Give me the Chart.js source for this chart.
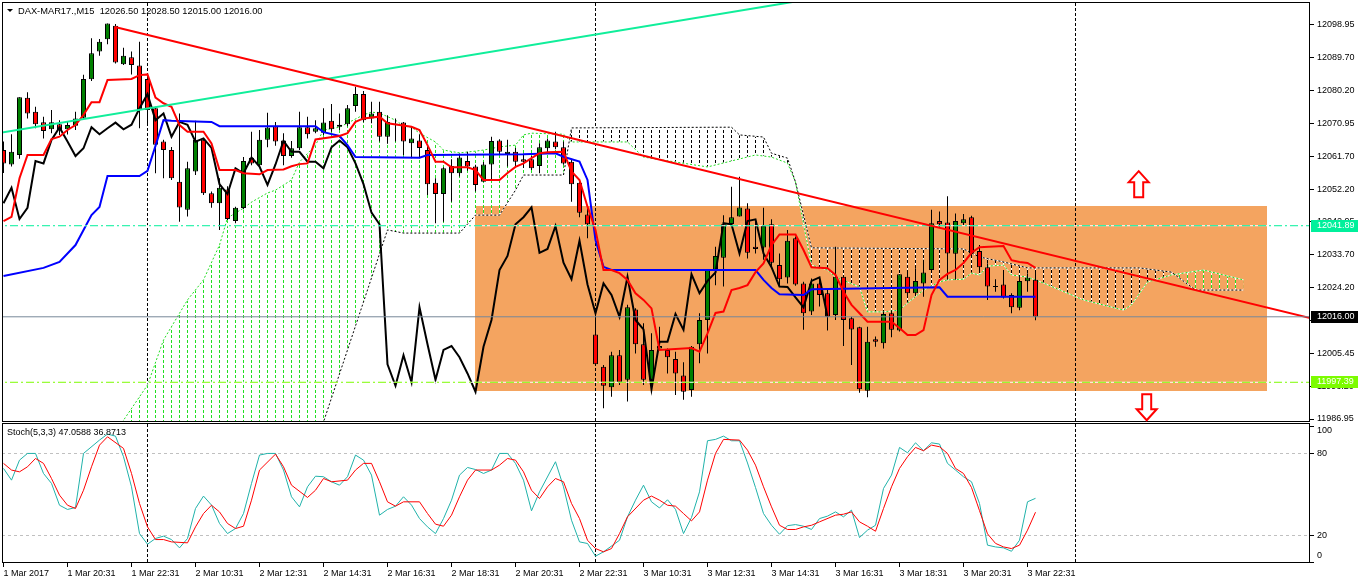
<!DOCTYPE html>
<html>
<head>
<meta charset="utf-8">
<script src="https://cdn.jsdelivr.net/npm/chart.js@4.4.1/dist/chart.umd.min.js"></script>
<style>
  html, body { margin: 0; padding: 0; background: #fff; }
  #wrap { position: relative; width: 1358px; height: 584px; overflow: hidden; }
  #main { position: absolute; left: 0; top: 0; }
  #osc { position: absolute; left: 0; top: 422px; }
</style>
</head>
<body>
<div id="wrap">
  <canvas id="main" width="1358" height="424"></canvas>
  <canvas id="osc" width="1358" height="162"></canvas>
</div>
<script>
// M15 candles, bar index 0..129
const opens = [12063.4,12059.3,12062.0,12078.3,12074.3,12071.3,12069.3,12070.7,12069.3,12070.3,
  12072.6,12083.5,12091.4,12094.9,12098.7,12087.8,12089.8,12087.4,12083.6,12075.3,
  12065.8,12063.4,12054.4,12046.4,12057.3,12066.3,12051.1,12048.3,12052.2,12043.2,
  12046.9,12061.2,12059.1,12066.3,12070.2,12066.1,12061.7,12063.9,12069.9,12068.6,
  12068.3,12071.7,12070.0,12070.7,12075.9,12079.3,12072.4,12074.3,12067.2,12070.8,
  12071.2,12065.3,12066.1,12063.4,12054.1,12050.9,12058.9,12056.8,12060.3,12058.7,
  12054.4,12059.3,12066.1,12062.3,12062.9,12060.8,12060.8,12058.9,12063.9,12065.8,
  12064.2,12060.1,12054.1,12045.1,12011.0,12001.8,11996.0,12005.1,11998.1,12018.1,
  12008.2,11998.1,12007.0,12006.6,12004.0,11999.3,11995.2,12008.2,12015.1,12029.3,
  12032.8,12042.4,12044.5,12046.8,12035.9,12035.7,12042.3,12030.7,12027.2,12038.3,
  12025.5,12017.5,12025.5,12022.7,12016.5,12027.4,12015.6,12013.0,11995.0,12009.6,
  12008.5,12017.0,12012.1,12027.4,12022.7,12025.5,12029.3,12043.2,12042.8,12033.9,
  12042.6,12044.3,12034.7,12030.1,12024.6,12025.2,12022.2,12018.6,12026.1,12026.5];
const highs = [12065.8,12067.9,12078.4,12079.8,12075.7,12072.9,12074.8,12071.9,12071.6,12074.3,
  12084.8,12095.2,12095.0,12099.4,12099.2,12092.5,12091.4,12094.2,12085.1,12075.7,
  12066.3,12064.3,12073.8,12060.1,12071.7,12066.7,12051.6,12055.4,12053.1,12047.3,
  12061.4,12068.6,12069.1,12074.0,12071.4,12068.2,12066.0,12074.3,12072.9,12071.9,
  12075.3,12076.5,12073.8,12076.2,12081.4,12080.2,12077.1,12077.1,12073.3,12072.4,
  12071.4,12070.0,12067.9,12064.4,12055.4,12058.5,12060.8,12062.4,12062.9,12059.2,
  12060.0,12067.2,12066.5,12066.3,12064.0,12062.4,12061.7,12065.3,12066.7,12068.6,
  12065.8,12060.6,12054.4,12047.8,12017.0,12002.3,12006.1,12006.6,12019.4,12018.4,
  12014.2,12011.3,12013.2,12007.0,12006.1,12003.1,12007.7,12017.0,12029.3,12035.9,
  12044.9,12053.0,12055.8,12048.3,12043.0,12047.0,12043.7,12034.0,12040.7,12038.8,
  12026.0,12026.9,12026.5,12023.6,12035.9,12027.9,12016.0,12013.2,12013.2,12010.4,
  12017.5,12017.9,12028.1,12028.8,12029.8,12032.2,12046.4,12045.9,12050.3,12045.4,
  12045.2,12044.7,12036.4,12031.2,12026.7,12029.3,12022.7,12027.9,12028.4,12028.5];
const lows = [12056.9,12058.7,12060.9,12072.4,12069.6,12066.7,12068.2,12067.7,12067.8,12069.1,
  12072.1,12083.0,12090.2,12093.5,12088.0,12087.6,12084.9,12069.6,12070.8,12056.8,
  12055.4,12054.9,12043.0,12044.5,12056.3,12050.6,12047.0,12040.7,12043.5,12042.6,
  12046.6,12059.1,12058.6,12064.2,12064.6,12059.1,12061.2,12063.4,12066.7,12068.2,
  12067.7,12068.6,12069.1,12070.2,12074.3,12071.3,12071.0,12065.8,12065.2,12065.8,
  12062.0,12061.1,12061.1,12050.6,12042.6,12043.0,12048.7,12055.9,12057.5,12051.6,
  12054.4,12054.9,12062.0,12058.7,12058.3,12058.3,12057.7,12056.8,12062.7,12063.6,
  12059.2,12048.7,12044.3,12038.3,12002.3,11990.0,11993.3,11996.6,11991.9,12005.6,
  11996.6,11995.2,12006.6,11999.9,11993.8,11992.4,11993.3,12002.8,12005.6,12025.0,
  12024.6,12042.4,12044.5,12032.6,12034.0,12032.2,12030.2,12025.0,12025.5,12024.8,
  12012.3,12016.5,12018.9,12012.1,12015.1,12007.7,12002.3,11994.4,11993.1,12007.5,
  12007.0,12010.2,12011.8,12022.2,12022.2,12021.7,12028.8,12041.6,12026.5,12026.5,
  12042.1,12033.6,12029.3,12020.8,12023.1,12021.2,12017.0,12017.9,12023.1,12015.0];
const closes = [12059.6,12062.9,12078.4,12073.8,12070.7,12068.8,12071.3,12069.1,12070.5,12072.4,
  12083.6,12090.9,12094.2,12099.4,12088.3,12090.2,12087.6,12074.8,12074.8,12064.9,
  12063.4,12055.4,12047.1,12058.2,12066.3,12051.1,12048.3,12052.7,12043.8,12047.0,
  12060.3,12059.6,12066.3,12069.8,12065.8,12061.7,12063.9,12069.9,12067.9,12069.6,
  12071.2,12069.3,12070.6,12075.3,12079.3,12071.9,12073.8,12067.2,12071.4,12070.6,
  12065.8,12066.7,12064.0,12053.7,12050.9,12058.2,12056.8,12061.3,12058.7,12053.5,
  12059.3,12066.0,12062.9,12062.9,12060.1,12060.1,12058.2,12064.2,12066.1,12064.2,
  12059.6,12053.7,12045.6,12042.3,12002.5,11996.4,12005.1,11997.4,12018.7,12008.2,
  11998.1,12006.6,12007.7,12004.5,11999.9,11994.7,12007.5,12015.1,12029.3,12033.3,
  12042.3,12044.3,12047.1,12034.2,12035.3,12041.8,12031.4,12026.7,12037.6,12025.2,
  12017.0,12025.5,12022.2,12016.0,12027.4,12015.1,12012.4,11995.4,12008.9,12008.9,
  12016.8,12012.3,12028.1,12022.7,12026.2,12028.6,12042.6,12042.3,12034.0,12043.2,
  12043.7,12034.0,12030.1,12024.6,12024.5,12021.5,12018.7,12026.2,12027.2,12016.0];

// Ichimoku lines as [bar, price] vertices
const tenkan = [[0,12043.2],[1,12044.4],[2,12055.4],[3,12062.0],[5,12062.0],[6,12066.5],[7,12067.2],[8,12069.1],
  [9,12070.5],[10,12073.4],[11,12077.0],[12,12077.0],[13,12083.3],[16,12083.6],[17,12084.7],[18,12084.9],
  [19,12078.3],[20,12076.7],[21,12075.7],[22,12070.5],[23,12068.6],[25,12068.6],[26,12065.3],[27,12057.7],
  [29,12057.7],[30,12056.8],[32,12056.5],[33,12057.7],[35,12057.9],[36,12058.8],[37,12059.4],[38,12059.6],
  [39,12066.4],[42,12067.4],[43,12068.2],[44,12071.4],[45,12072.4],[47,12072.9],[48,12071.0],[51,12070.0],
  [52,12069.1],[53,12064.8],[54,12060.1],[55,12060.1],[56,12058.5],[58,12058.5],[59,12057.7],[60,12054.9],
  [62,12054.9],[63,12056.9],[64,12058.6],[65,12059.6],[66,12061.1],[67,12062.5],[68,12062.8],[70,12062.9],
  [71,12057.3],[72,12054.9],[73,12047.3],[74,12040.7],[75,12029.3],[76,12029.3],[77,12028.4],[78,12026.5],
  [79,12022.7],[80,12020.8],[81,12018.4],[82,12006.6],[86,12007.1],[87,12006.1],[88,12011.3],[89,12017.1],
  [90,12017.5],[91,12023.6],[92,12024.2],[93,12025.0],[94,12028.7],[95,12031.2],[96,12036.4],[97,12039.4],
  [99,12039.4],[100,12035.0],[101,12030.1],[103,12029.8],[104,12027.9],[105,12023.1],[106,12019.4],[107,12017.0],
  [108,12014.6],[111,12014.6],[112,12012.8],[113,12010.8],[114,12010.8],[115,12012.2],[116,12022.2],[117,12026.5],
  [118,12028.2],[119,12029.3],[120,12031.3],[121,12034.2],[122,12035.8],[125,12036.1],[126,12032.1],[127,12031.6],
  [128,12031.3],[129,12029.9]];
const kijun = [[0,12027.6],[5,12029.9],[7,12031.6],[9,12036.4],[11,12044.9],[12,12047.2],[13,12056.0],[17,12056.0],
  [18,12057.5],[19,12064.6],[20,12071.9],[21,12071.7],[26,12071.4],[27,12070.2],[39,12070.2],[40,12068.5],
  [42,12067.4],[43,12064.8],[44,12061.4],[52,12061.2],[53,12062.0],[65,12062.2],[69,12062.5],[70,12061.5],
  [72,12060.1],[73,12054.9],[74,12037.8],[75,12030.2],[76,12029.3],[94,12029.3],[95,12026.5],[96,12024.2],
  [97,12022.4],[100,12022.2],[101,12023.8],[117,12024.4],[118,12021.7],[129,12021.7]];
const spanA = [[0,11970],[14,11983.8],[15,11986.6],[18,11996.6],[20,12009.4],[23,12020.8],[25,12026.5],[27,12036.4],
  [28,12044.1],[30,12046.9],[31,12048.6],[33,12051.2],[34,12052.0],[36,12054.9],[37,12060.0],[39,12064.8],
  [40,12069.1],[42,12069.9],[45,12073.4],[46,12074.2],[47,12073.9],[49,12071.9],[50,12070.2],[51,12069.9],
  [52,12068.2],[54,12065.7],[55,12063.4],[57,12062.6],[59,12063.1],[60,12063.4],[62,12064.3],[64,12064.8],
  [65,12067.7],[66,12068.2],[70,12067.9],[71,12065.7],[78,12065.7],[80,12061.4],[88,12058.6],[94,12062.0],
  [96,12061.4],[98,12059.7],[99,12054.3],[101,12030.7],[103,12029.3],[104,12027.3],[107,12024.5],[108,12017.4],
  [110,12017.4],[112,12017.9],[113,12019.9],[115,12023.6],[117,12025.9],[118,12026.5],[120,12026.7],[121,12028.4],
  [122,12027.9],[123,12030.4],[125,12030.7],[126,12027.9],[128,12027.3],[130,12025.6],[135,12020.8],[140,12017.9],
  [141,12019.4],[143,12025.9],[146,12027.9],[150,12029.3],[155,12026.5]];
const spanB = [[0,11975],[40,11986.1],[48,12040.7],[50,12039.8],[57,12039.8],[59,12044.9],[62,12044.9],[64,12052.0],
  [65,12056.3],[70,12056.3],[71,12069.7],[91,12069.9],[92,12067.7],[95,12067.1],[96,12062.5],[98,12061.1],
  [99,12054.3],[101,12035.6],[120,12035.3],[122,12033.0],[125,12031.6],[128,12029.9],[142,12029.9],[146,12028.7],
  [149,12023.6],[155,12023.6]];

// Stochastic (5,3,3) as [bar, value] vertices
const stochK = [[0,69],[1,60.4],[2,75.1],[3,80],[4,80],[5,65.3],[6,58],[7,42],[8,38.9],[9,40.3],[10,80],[12,89.8],
  [13,94.2],[14,92.7],[15,77.6],[16,55.5],[17,21.2],[18,13.4],[19,17.6],[20,19.3],[21,16.8],[22,10.7],[23,17.6],
  [24,39.6],[25,48.7],[26,42.1],[27,28.6],[28,21.2],[29,24.9],[30,35.9],[31,58],[32,78.8],[33,80],[34,80],[35,67.8],
  [36,48.2],[37,40.8],[38,55.5],[39,63.3],[40,62.9],[41,59.2],[42,56.7],[43,62.9],[44,78.8],[45,75.1],[46,64.1],
  [47,34.7],[48,38.9],[49,41.3],[50,48.2],[51,42.1],[52,32.2],[53,26.1],[54,21.2],[55,32.2],[56,45.7],[57,64.1],
  [58,69.7],[59,68.2],[60,65.3],[61,67.8],[62,80],[63,80],[64,72.7],[65,60.4],[66,37.9],[67,51.8],[69,73.9],
  [70,55.5],[71,31],[72,15.1],[73,13.9],[74,4.6],[75,7.8],[77,16.3],[78,33.5],[79,45.7],[80,56.7],[81,44.5],
  [82,40],[83,46],[84,39],[85,21.2],[86,33],[87,51.8],[88,89.3],[89,90.3],[90,92.7],[91,89.3],[92,89.3],[93,73],
  [94,55],[95,35.9],[96,27.3],[97,20.7],[98,27],[99,27.8],[100,26.6],[101,24.2],[102,32.2],[103,34],[104,37.1],
  [105,33.5],[106,38.4],[107,18.3],[108,23.7],[109,27.3],[110,54.3],[111,64.1],[112,84.4],[113,80.5],[114,87.8],
  [115,82],[116,87.8],[117,86.9],[118,72.7],[119,67.8],[120,62.9],[121,59.2],[122,43.3],[123,12.7],[124,11.4],
  [125,10.7],[126,8.2],[127,16.3],[128,44.5],[129,47.0588]];
const stochD = [[0,72.7],[1,67.8],[2,66.5],[3,70.2],[4,76.3],[5,72.7],[6,61.6],[7,49.4],[8,42],[9,39.6],[10,53],
  [11,70.2],[12,86.1],[13,92.2],[15,83.7],[16,65.3],[17,43.3],[18,26.1],[19,16.8],[20,16.8],[21,15.1],[23,14.4],
  [24,26.1],[25,35.9],[26,42],[27,37.1],[28,28.6],[29,24.9],[30,26.6],[31,45.7],[32,67.8],[34,79.5],[35,70.2],
  [36,56.7],[38,47.7],[39,53],[40,61.6],[41,59.2],[43,60.4],[44,67.8],[45,72.7],[46,72.7],[47,59.2],[48,44.5],
  [49,41.3],[50,44.5],[52,44.5],[53,35.9],[54,28.1],[55,26.6],[56,34.7],[57,48.2],[58,60.4],[59,67.8],[61,67.8],
  [62,71.4],[63,76.3],[64,75.1],[65,66.5],[66,53],[67,46.9],[68,55.5],[69,61.6],[70,59.2],[71,43.3],[72,32.2],
  [73,16.3],[74,10.2],[75,7.8],[76,10.2],[77,21.2],[78,33.5],[80,45.7],[81,48.7],[82,45.7],[83,42],[84,41.3],
  [85,35.9],[86,30.5],[87,37.1],[88,60.4],[89,80],[90,90.3],[92,89.8],[93,82.4],[94,71.4],[95,55.5],[96,40.8],
  [97,27.3],[98,24.2],[99,24.2],[100,26.1],[101,27.3],[102,29.8],[104,34.7],[105,35.4],[106,37.1],[107,29.8],
  [108,26.6],[109,22.9],[110,39.6],[111,55.5],[112,69],[113,77.6],[114,84.4],[115,82],[116,86.1],[117,84.9],
  [118,80],[119,69],[120,65.3],[121,55],[122,38],[123,21],[124,14],[125,11.4],[126,10.2],[127,12.7],[128,23.7],
  [129,36.8713]];

// drawn objects
const redTrend = [[13.94,12098.4],[165,12014.7]];
const greenTrend = [[-1,12068.1],[100,12106.0]];
const zone = [[58.9,12047.5],[157.9,11994.9]];
const levelUp = 12041.89;
const levelDown = 11997.39;
const bidPrice = 12016.00;
const arrowUp = [141.9,12057.4];   // tip of the up arrow
const arrowDown = [142.9,11986.6]; // tip of the down arrow
const separatorBars = [18,74,134];
const stochLevels = [80,20];

// axes
const priceTicks = [12098.95,12089.70,12080.20,12070.95,12061.70,12052.20,12042.95,12033.70,12024.20,
  12014.95,12005.45,11996.20,11986.95];
const timeTickBars = [0,8,16,24,32,40,48,56,64,72,80,88,96,104,112,120,128];
const timeLabels = ['1 Mar 2017','1 Mar 20:31','1 Mar 22:31','2 Mar 10:31','2 Mar 12:31','2 Mar 14:31',
  '2 Mar 16:31','2 Mar 18:31','2 Mar 20:31','2 Mar 22:31','3 Mar 10:31','3 Mar 12:31','3 Mar 14:31',
  '3 Mar 16:31','3 Mar 18:31','3 Mar 20:31','3 Mar 22:31'];
const oscTicks = [100,80,20,0];
const header = 'DAX-MAR17.,M15  12026.50 12028.50 12015.00 12016.00';
const oscHeader = 'Stoch(5,3,3) 47.0588 36.8713';

const X_MIN = -0.1875, X_MAX = 163.3125;
const FONT = '"Liberation Sans", Arial, sans-serif';
Chart.defaults.font.family = FONT;
Chart.defaults.font.size = 9;
Chart.defaults.color = '#000';

const pts = arr => arr.map(([x, y]) => ({x, y}));
const flat = v => [{x: X_MIN - 1, y: v}, {x: X_MAX + 1, y: v}];
const noPad = s => { s.paddingTop = 0; s.paddingBottom = 0; s.paddingLeft = 0; s.paddingRight = 0; };

function hatch(ctx, color) {
  const c = document.createElement('canvas');
  c.width = 8; c.height = 5;
  const g = c.getContext('2d');
  g.fillStyle = '#fff'; g.fillRect(3, 3, 1, 2);
  g.fillStyle = color; g.fillRect(3, 0, 1, 3);
  return ctx.createPattern(c, 'repeat');
}

function drawSeparators(ctx, x, a) {
  ctx.save();
  ctx.strokeStyle = '#000';
  ctx.lineWidth = 1;
  ctx.setLineDash([3, 2]);
  separatorBars.forEach(b => {
    const px = Math.floor(x.getPixelForValue(b)) + 0.5;
    ctx.beginPath(); ctx.moveTo(px, a.top); ctx.lineTo(px, a.bottom); ctx.stroke();
  });
  ctx.restore();
}

function drawBox(ctx, a) {
  ctx.save();
  ctx.strokeStyle = '#000';
  ctx.lineWidth = 1;
  ctx.strokeRect(a.left + 0.5, a.top - 0.5, a.right - a.left - 1, a.bottom - a.top);
  ctx.restore();
}

// outlined block arrow, tip at (cx, ty), dir -1 = up, +1 = down
function drawArrow(ctx, cx, ty, dir) {
  const d = -dir;
  ctx.beginPath();
  ctx.moveTo(cx, ty);
  ctx.lineTo(cx + 10, ty + d * 11);
  ctx.lineTo(cx + 4.5, ty + d * 11);
  ctx.lineTo(cx + 4.5, ty + d * 26);
  ctx.lineTo(cx - 4.5, ty + d * 26);
  ctx.lineTo(cx - 4.5, ty + d * 11);
  ctx.lineTo(cx - 10, ty + d * 11);
  ctx.closePath();
  ctx.fillStyle = '#fff';
  ctx.fill();
  ctx.strokeStyle = '#FF0000';
  ctx.lineWidth = 2;
  ctx.stroke();
}

const mainDecor = {
  id: 'mainDecor',
  beforeDatasetsDraw(chart) {
    const {ctx, chartArea: a, scales: {x, y}} = chart;
    ctx.save();
    ctx.beginPath(); ctx.rect(a.left, a.top, a.right - a.left, a.bottom - a.top); ctx.clip();
    const x1 = x.getPixelForValue(zone[0][0]), x2 = x.getPixelForValue(zone[1][0]);
    const y1 = y.getPixelForValue(zone[0][1]), y2 = y.getPixelForValue(zone[1][1]);
    ctx.fillStyle = '#F4A460';
    ctx.fillRect(Math.round(x1), Math.round(y1), Math.round(x2 - x1), Math.round(y2 - y1));
    ctx.restore();
    drawSeparators(ctx, x, a);
  },
  afterDraw(chart) {
    const {ctx, chartArea: a, scales: {x, y}} = chart;
    drawBox(ctx, a);
    ctx.save();
    // header
    ctx.fillStyle = '#000';
    ctx.beginPath(); ctx.moveTo(7, 9); ctx.lineTo(13, 9); ctx.lineTo(10, 12); ctx.closePath(); ctx.fill();
    ctx.font = '9.3px ' + FONT;
    ctx.textBaseline = 'middle';
    ctx.textAlign = 'left';
    ctx.fillText(header, 18, 11);
    ctx.font = '9px ' + FONT;
    // price tags
    [[levelUp, '#00F09C', '#fff'], [bidPrice, '#000', '#fff'], [levelDown, '#7CFC00', '#fff']].forEach(([v, bg, fg]) => {
      const py = Math.round(y.getPixelForValue(v));
      ctx.fillStyle = bg; ctx.fillRect(a.right + 1, py - 6, 48, 12);
      ctx.fillStyle = fg; ctx.fillText(v.toFixed(2), a.right + 7, py);
    });
    // arrows
    ctx.beginPath(); ctx.rect(a.left, a.top, a.right - a.left, a.bottom - a.top); ctx.clip();
    drawArrow(ctx, x.getPixelForValue(arrowUp[0]), y.getPixelForValue(arrowUp[1]), -1);
    drawArrow(ctx, x.getPixelForValue(arrowDown[0]), y.getPixelForValue(arrowDown[1]), 1);
    ctx.restore();
  }
};

const mainCanvas = document.getElementById('main');
const mctx = mainCanvas.getContext('2d');
const upHatch = hatch(mctx, '#22DD22');
const downHatch = hatch(mctx, '#000000');

const lineBase = {type: 'line', pointRadius: 0, tension: 0, fill: false};

new Chart(mctx, {
  type: 'bar',
  data: {
    datasets: [
      Object.assign({}, lineBase, {data: pts(spanA), borderWidth: 0, borderColor: 'rgba(0,0,0,0)',
        fill: {target: 1, above: upHatch, below: downHatch}, order: 30}),
      Object.assign({}, lineBase, {data: pts(spanB), borderWidth: 1, borderColor: '#000', borderDash: [2, 2], order: 19}),
      Object.assign({}, lineBase, {data: pts(spanA), borderWidth: 1, borderColor: '#22DD22', borderDash: [2, 2], order: 20}),
      Object.assign({}, lineBase, {data: pts(spanB), borderWidth: 1, borderColor: '#fff', order: 25}),
      Object.assign({}, lineBase, {data: pts(spanA), borderWidth: 1, borderColor: '#fff', order: 26}),
      {
        type: 'bar', data: lows.map((l, i) => ({x: i, y: [l, highs[i]]})),
        barThickness: 1, backgroundColor: '#000', borderWidth: 0, grouped: false, inflateAmount: 0, order: 12
      },
      {
        type: 'bar', data: opens.map((o, i) => ({x: i, y: [o, closes[i]]})),
        barThickness: 5, minBarLength: 1, borderWidth: 1, borderColor: '#000', borderSkipped: false,
        grouped: false, inflateAmount: 0, order: 11,
        backgroundColor: c => (c.raw && c.raw.y[1] >= c.raw.y[0]) ? '#008000' : '#FF0000'
      },
      Object.assign({}, lineBase, {data: closes.slice(26).map((c, i) => ({x: i, y: c})), borderWidth: 2, borderColor: '#000', order: 8}),
      Object.assign({}, lineBase, {data: pts(kijun), borderWidth: 2, borderColor: '#0000FF', order: 7}),
      Object.assign({}, lineBase, {data: pts(tenkan), borderWidth: 2, borderColor: '#FF0000', order: 6}),
      Object.assign({}, lineBase, {data: flat(levelUp), borderWidth: 1, borderColor: '#fff', order: 5}),
      Object.assign({}, lineBase, {data: flat(levelUp), borderWidth: 1, borderColor: '#00F09C', borderDash: [8, 3, 2, 3], order: 4}),
      Object.assign({}, lineBase, {data: flat(levelDown), borderWidth: 1, borderColor: '#fff', order: 5}),
      Object.assign({}, lineBase, {data: flat(levelDown), borderWidth: 1, borderColor: '#7CFC00', borderDash: [8, 3, 2, 3], order: 4}),
      Object.assign({}, lineBase, {data: pts(greenTrend), borderWidth: 2, borderColor: '#10EE9A', order: 3}),
      Object.assign({}, lineBase, {data: pts(redTrend), borderWidth: 2, borderColor: '#FF0000', order: 2}),
      Object.assign({}, lineBase, {data: flat(bidPrice), borderWidth: 1, borderColor: '#778899', order: 1})
    ]
  },
  options: {
    responsive: false,
    animation: false,
    devicePixelRatio: 1,
    layout: {padding: {top: 3, left: 2, right: 0, bottom: 2}},
    plugins: {legend: {display: false}, tooltip: {enabled: false}},
    scales: {
      x: {type: 'linear', min: X_MIN, max: X_MAX, offset: false, display: false},
      y: {
        type: 'linear', position: 'right', min: 11986.1, max: 12105.2, beginAtZero: false,
        border: {display: false},
        grid: {drawOnChartArea: false, drawTicks: true, tickLength: 4, color: '#000'},
        ticks: {padding: 3, autoSkip: false, callback: v => Number(v).toFixed(2)},
        afterBuildTicks: s => { s.ticks = priceTicks.map(v => ({value: v})); },
        afterFit: s => { s.width = 48; noPad(s); }
      }
    }
  },
  plugins: [mainDecor]
});

const oscDecor = {
  id: 'oscDecor',
  beforeDatasetsDraw(chart) {
    const {ctx, chartArea: a, scales: {x, y}} = chart;
    ctx.save();
    ctx.strokeStyle = '#C0C0C0';
    ctx.lineWidth = 1;
    ctx.setLineDash([3, 3]);
    stochLevels.forEach(v => {
      const py = Math.round(y.getPixelForValue(v)) + 0.5;
      ctx.beginPath(); ctx.moveTo(a.left, py); ctx.lineTo(a.right, py); ctx.stroke();
    });
    ctx.restore();
    drawSeparators(ctx, x, a);
  },
  afterDraw(chart) {
    const {ctx, chartArea: a, scales: {y}} = chart;
    drawBox(ctx, a);
    ctx.save();
    ctx.fillStyle = '#000';
    ctx.font = '9px ' + FONT;
    ctx.textBaseline = 'middle';
    ctx.textAlign = 'left';
    ctx.fillText(oscHeader, 7, 11);
    [oscTicks[0], oscTicks[3]].forEach(v => {
      const py = Math.min(Math.max(y.getPixelForValue(v), a.top + 7), a.bottom - 7);
      ctx.fillText(String(v), a.right + 7, py);
    });
    ctx.restore();
  }
};

new Chart(document.getElementById('osc').getContext('2d'), {
  type: 'line',
  data: {
    datasets: [
      Object.assign({}, lineBase, {data: pts(stochK), borderWidth: 1, borderColor: '#20B2AA', order: 2}),
      Object.assign({}, lineBase, {data: pts(stochD), borderWidth: 1, borderColor: '#FF0000', order: 1})
    ]
  },
  options: {
    responsive: false,
    animation: false,
    devicePixelRatio: 1,
    layout: {padding: {top: 2, left: 2, right: 0, bottom: 0}},
    plugins: {legend: {display: false}, tooltip: {enabled: false}},
    scales: {
      x: {
        type: 'linear', min: X_MIN, max: X_MAX, offset: false,
        border: {display: false},
        grid: {drawOnChartArea: false, drawTicks: true, tickLength: 4, color: '#000'},
        ticks: {align: 'start', maxRotation: 0, minRotation: 0, autoSkip: false, padding: 1,
          callback: (v, i) => timeLabels[i]},
        afterBuildTicks: s => { s.ticks = timeTickBars.map(v => ({value: v})); },
        afterFit: s => { s.height = 21; noPad(s); }
      },
      y: {
        type: 'linear', position: 'right', min: -0.4, max: 101.6,
        border: {display: false},
        grid: {drawOnChartArea: false, drawTicks: true, tickLength: 4, color: '#000'},
        ticks: {padding: 3, autoSkip: false, callback: v => (v === 80 || v === 20) ? String(v) : ''},
        afterBuildTicks: s => { s.ticks = oscTicks.map(v => ({value: v})); },
        afterFit: s => { s.width = 48; noPad(s); }
      }
    }
  },
  plugins: [oscDecor]
});
</script>
</body>
</html>
